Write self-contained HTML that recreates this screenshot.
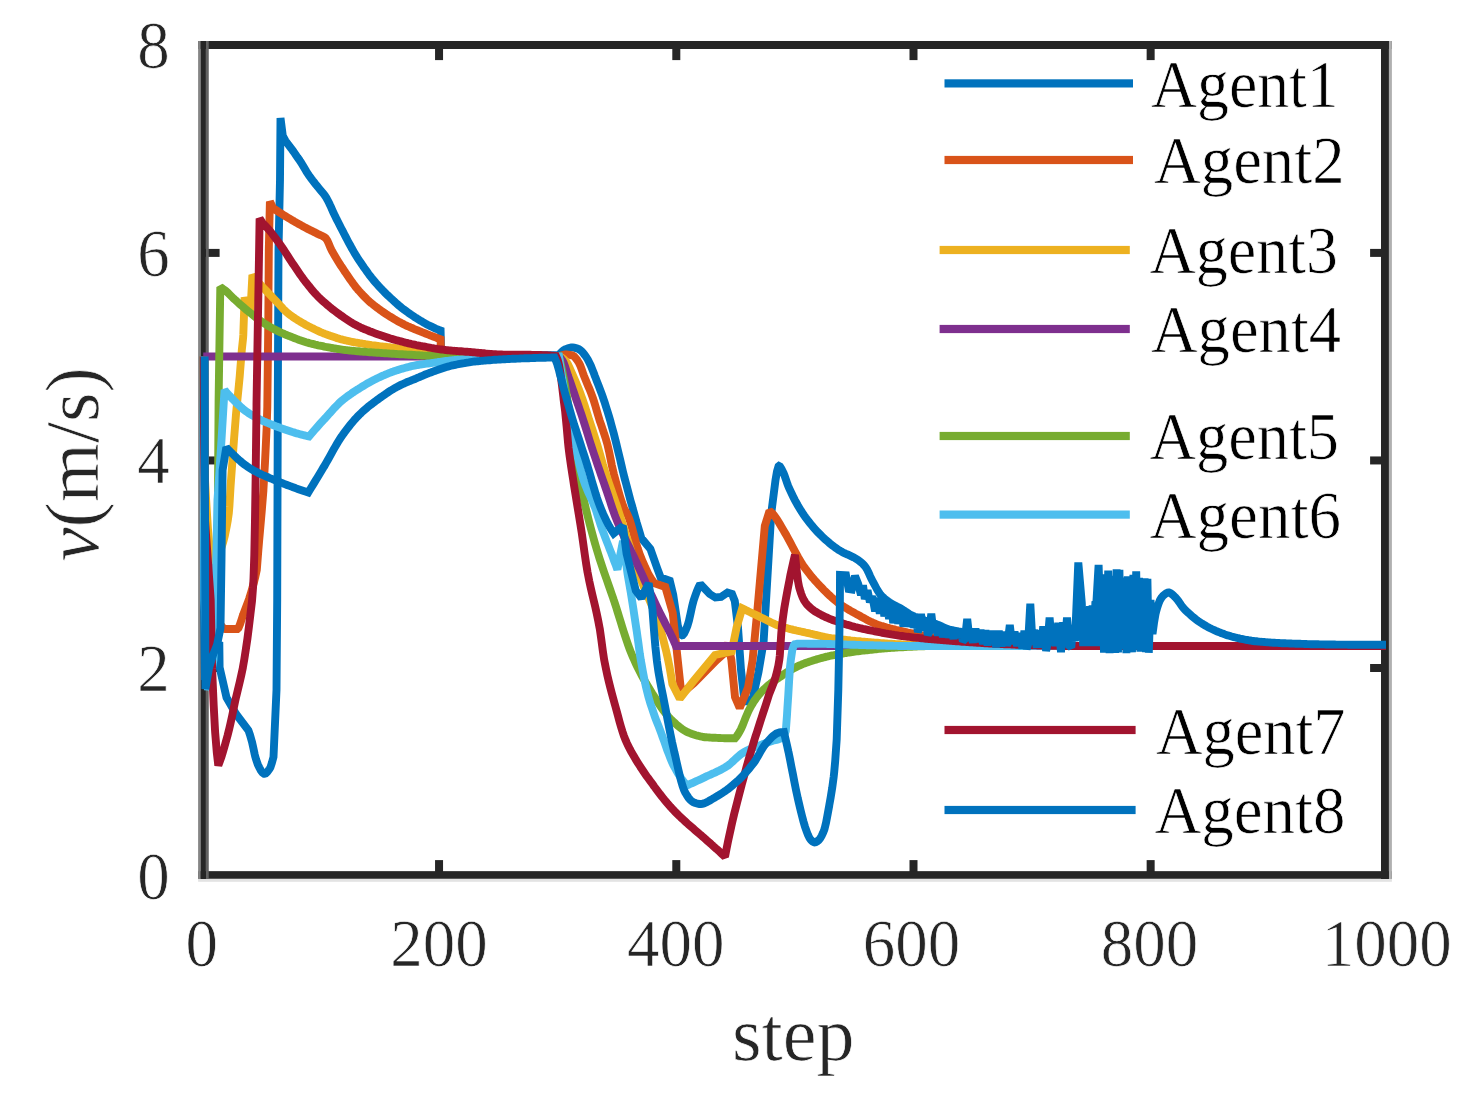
<!DOCTYPE html>
<html>
<head>
<meta charset="utf-8">
<title>v(m/s) vs step</title>
<style>
html,body{margin:0;padding:0;background:#ffffff;}
body{width:1466px;height:1096px;overflow:hidden;font-family:"Liberation Serif",serif;}
svg{display:block;}
</style>
</head>
<body>
<svg width="1466" height="1096" viewBox="0 0 1466 1096">
<rect x="0" y="0" width="1466" height="1096" fill="#ffffff"/>
<g fill="#262626">
<rect x="435.05" y="860.1" width="8.0" height="12"/>
<rect x="435.05" y="48" width="8.0" height="12.1"/>
<rect x="672.30" y="860.1" width="8.0" height="12"/>
<rect x="672.30" y="48" width="8.0" height="12.1"/>
<rect x="909.50" y="860.1" width="8.0" height="12"/>
<rect x="909.50" y="48" width="8.0" height="12.1"/>
<rect x="1146.65" y="860.1" width="8.0" height="12"/>
<rect x="1146.65" y="48" width="8.0" height="12.1"/>
<rect x="205" y="664.00" width="14.6" height="8.0"/>
<rect x="1370.1" y="664.00" width="12" height="8.0"/>
<rect x="205" y="456.45" width="14.6" height="8.0"/>
<rect x="1370.1" y="456.45" width="12" height="8.0"/>
<rect x="205" y="248.90" width="14.6" height="8.0"/>
<rect x="1370.1" y="248.90" width="12" height="8.0"/>
</g>
<rect x="198.1" y="41.0" width="1193.8" height="8.0" fill="#262626"/>
<rect x="198.1" y="878.6" width="1193.8" height="3.2" fill="#e3e3e3"/>
<rect x="198.1" y="871.15" width="1193.8" height="7.6" fill="#262626"/>
<rect x="198.1" y="41.0" width="2.7" height="838" fill="#858585"/>
<rect x="205.8" y="41.0" width="2.95" height="838" fill="#626262"/>
<rect x="200.7" y="41.0" width="5.2" height="838" fill="#262626"/>
<rect x="1388.8" y="41.0" width="3.1" height="838" fill="#b0b0b0"/>
<rect x="1381.0" y="41.0" width="7.9" height="838" fill="#262626"/>
<clipPath id="cp"><rect x="199.5" y="45.0" width="1187.7" height="834.0"/></clipPath>
<g clip-path="url(#cp)" fill="none" stroke-width="7.9" stroke-linejoin="miter" stroke-miterlimit="1.6" stroke-linecap="butt">
<path id="a1" stroke="#0072BD" d="M203.2 356.5 L204.0 600.0 L205.0 680.0 L212.0 655.0 L219.3 642.0 L219.6 667.4 L226.5 697.5 L236.0 714.0 L248.4 730.3 L250.0 734.9 L251.5 740.3 L252.0 742.0 L253.1 746.9 L254.7 754.4 L255.2 756.4 L256.2 759.8 L257.8 764.4 L259.4 767.8 L259.5 768.0 L260.9 770.5 L262.5 772.7 L264.1 773.8 L264.3 773.8 L265.7 773.4 L267.2 772.0 L268.8 770.0 L269.5 769.0 L270.4 767.4 L271.9 762.8 L273.5 757.0 L276.5 690.0 L277.2 600.0 L277.8 400.0 L278.5 250.0 L280.0 180.0 L280.5 118.0 L282.8 136.0 L285.5 141.0 L287.0 142.9 L288.5 144.8 L290.0 146.8 L291.5 148.8 L293.0 150.9 L294.5 153.0 L296.0 155.2 L297.5 157.4 L299.1 159.6 L300.0 161.0 L300.6 161.8 L302.1 164.2 L303.6 166.8 L305.1 169.3 L306.6 171.8 L308.1 174.1 L309.0 175.5 L309.6 176.3 L311.1 178.4 L312.6 180.4 L314.1 182.3 L315.6 184.2 L317.1 186.0 L318.2 187.4 L318.6 187.9 L320.1 189.7 L321.6 191.5 L323.1 193.3 L324.7 195.3 L325.4 196.4 L326.2 197.6 L327.7 200.3 L329.2 203.3 L330.0 205.0 L330.7 206.4 L332.2 209.8 L333.6 213.0 L333.7 213.2 L335.2 216.3 L336.7 219.4 L338.2 222.3 L339.7 225.3 L341.2 228.2 L341.9 229.5 L342.7 231.1 L344.2 234.0 L345.7 236.9 L347.2 239.8 L348.7 242.7 L350.3 245.5 L351.8 248.3 L353.3 250.9 L354.8 253.5 L355.0 253.9 L356.3 256.0 L357.8 258.3 L359.3 260.6 L360.8 262.8 L362.3 265.0 L363.0 266.0 L363.8 267.2 L365.3 269.3 L366.8 271.4 L368.3 273.5 L369.8 275.5 L371.3 277.4 L371.4 277.5 L372.8 279.3 L374.3 281.1 L375.8 282.9 L377.4 284.6 L378.9 286.3 L380.0 287.5 L380.4 287.9 L381.9 289.5 L383.4 291.1 L384.9 292.6 L386.4 294.1 L387.9 295.5 L387.9 295.5 L389.4 296.9 L390.9 298.3 L392.4 299.7 L393.9 301.1 L395.4 302.4 L396.9 303.8 L398.4 305.1 L399.9 306.3 L401.4 307.6 L403.0 308.8 L404.3 309.8 L404.5 309.9 L406.0 311.0 L407.5 312.1 L409.0 313.2 L410.5 314.3 L412.0 315.3 L413.5 316.3 L415.0 317.3 L416.5 318.2 L418.0 319.2 L419.5 320.1 L420.7 320.8 L421.0 321.0 L422.5 321.9 L424.0 322.8 L425.5 323.6 L427.0 324.5 L428.6 325.3 L430.0 326.0 L430.1 326.0 L431.6 326.7 L433.1 327.4 L434.6 328.1 L436.1 328.8 L437.6 329.4 L439.1 330.0 L440.6 330.5 L441.2 356.5 L559.0 355.0 L560.5 353.2 L562.0 351.6 L563.6 350.3 L565.0 349.5 L565.1 349.5 L566.6 348.8 L568.1 348.2 L569.7 347.8 L571.2 347.5 L572.0 347.5 L572.7 347.5 L574.2 347.7 L575.8 348.1 L577.3 348.6 L578.5 349.0 L578.8 349.1 L580.3 350.1 L581.9 351.5 L583.4 353.3 L584.9 355.2 L585.5 356.0 L586.4 357.3 L588.0 359.9 L589.5 362.9 L590.5 365.0 L591.0 366.1 L592.5 369.9 L594.1 373.9 L594.7 375.6 L595.6 377.9 L597.1 381.8 L598.6 385.7 L600.1 389.7 L601.7 393.8 L603.2 398.1 L603.3 398.4 L604.7 402.6 L606.2 407.4 L607.8 412.3 L609.3 417.4 L610.4 421.2 L610.8 422.7 L612.3 428.2 L613.9 434.0 L615.4 440.0 L616.4 444.0 L616.9 446.1 L618.4 452.4 L620.0 458.9 L621.5 465.5 L623.0 471.8 L623.6 474.2 L624.5 477.9 L626.1 483.8 L627.6 489.6 L629.1 495.3 L630.6 500.9 L632.2 506.4 L632.7 508.4 L633.7 511.9 L635.2 517.3 L636.7 522.6 L638.3 527.8 L639.8 532.9 L641.3 538.0 L650.4 549.0 L657.3 568.5 L660.7 577.6 L669.8 580.8 L673.2 594.7 L677.8 625.5 L679.4 631.1 L681.0 634.5 L682.2 635.3 L682.6 635.2 L684.2 633.4 L685.8 630.0 L687.4 626.0 L689.0 620.6 L690.6 613.3 L692.2 605.9 L693.5 601.0 L693.8 600.1 L695.4 595.3 L697.0 590.9 L698.6 587.1 L700.2 584.0 L709.7 594.0 L715.4 597.5 L721.0 597.0 L727.5 592.5 L732.0 594.0 L734.8 601.0 L738.0 627.4 L741.0 670.0 L744.0 697.0 L748.0 703.0 L753.0 697.0 L758.5 672.0 L763.6 642.0 L771.2 513.7 L775.5 480.0 L777.0 471.3 L778.5 466.4 L779.0 466.0 L780.0 466.5 L781.5 468.9 L783.0 472.0 L783.5 473.0 L784.5 475.4 L786.0 479.8 L787.5 484.2 L788.2 486.0 L789.0 487.8 L790.5 491.1 L792.0 494.3 L793.5 497.4 L795.0 500.3 L796.5 503.0 L798.0 505.7 L799.5 508.2 L801.0 510.7 L802.5 513.0 L803.0 513.7 L804.0 515.2 L805.5 517.3 L807.0 519.3 L808.5 521.3 L810.0 523.2 L811.5 525.1 L813.0 526.9 L814.5 528.6 L816.0 530.3 L817.5 531.9 L819.0 533.4 L820.5 534.9 L821.4 535.8 L822.0 536.4 L823.5 537.8 L825.0 539.2 L826.5 540.5 L828.0 541.8 L829.5 543.1 L831.0 544.3 L832.5 545.5 L834.0 546.6 L835.5 547.7 L837.0 548.8 L838.5 549.8 L839.8 550.6 L840.0 550.7 L841.5 551.6 L843.0 552.4 L844.5 553.2 L846.0 553.9 L847.5 554.5 L849.0 555.2 L850.5 555.9 L852.0 556.6 L853.5 557.3 L855.0 558.1 L856.5 559.0 L858.0 560.0 L859.5 561.1 L861.0 562.3 L862.5 563.6 L864.0 565.2 L865.5 567.0 L867.0 569.4 L868.5 572.5 L870.0 575.9 L871.5 579.0 L872.0 580.0 L873.0 581.9 L874.5 584.7 L876.0 587.5 L877.5 590.2 L879.0 592.6 L880.5 594.7 L881.2 595.5 L882.0 596.3 L883.5 597.8 L885.0 599.0 L886.5 600.2 L888.0 601.3 L889.5 602.3 L891.0 603.2 L891.4 603.5 L892.5 604.2 L894.0 605.0 L895.5 605.8 L897.0 606.6 L898.5 607.3 L900.0 608.1 L901.5 608.9 L901.6 609.0 L903.0 609.9 L904.5 610.8 L906.0 611.9 L907.5 612.9 L909.0 613.9 L910.5 614.8 L911.9 615.5 L912.0 615.5 L913.5 616.2 L915.0 616.9 L916.5 617.5 L918.0 618.1 L919.5 618.7 L921.0 619.2 L922.5 619.7 L924.0 620.2 L925.5 620.8 L926.2 621.0 L927.0 621.3 L928.5 621.8 L930.0 622.2 L931.5 622.7 L933.0 623.2 L934.5 623.6 L936.0 624.1 L937.5 624.6 L938.5 625.0 L939.0 625.2 L940.5 625.8 L942.0 626.6 L943.5 627.3 L945.0 628.0 L946.5 628.6 L947.7 629.0 L948.0 629.1 L949.5 629.5 L951.0 629.8 L952.5 630.2 L954.0 630.5 L955.5 630.8 L957.0 631.1 L958.5 631.4 L960.0 631.6 L961.5 631.9 L963.0 632.1 L964.5 632.3 L966.0 632.6 L967.5 632.8 L969.0 633.0 L970.5 633.3 L972.0 633.5 L973.5 633.7 L975.0 634.0 L976.5 634.3 L978.0 634.5 L979.5 634.8 L981.0 635.1 L982.5 635.4 L984.0 635.6 L985.5 635.9 L987.0 636.2 L988.5 636.5 L990.0 636.8 L991.5 637.0 L993.0 637.3 L994.5 637.6 L996.0 637.8 L997.5 638.1 L999.0 638.4 L1000.5 638.6 L1002.0 638.8 L1003.5 639.1 L1005.0 639.3 L1006.5 639.5 L1008.0 639.7 L1009.5 639.9 L1010.0 640.0 L1011.0 640.1 L1012.5 640.3 L1014.0 640.5 L1015.5 640.7 L1017.0 640.8 L1018.5 641.0 L1020.0 641.2 L1021.5 641.4 L1023.0 641.5 L1024.5 641.7 L1026.0 641.8 L1027.5 642.0 L1029.0 642.1 L1030.5 642.3 L1032.0 642.4 L1033.5 642.6 L1035.0 642.7 L1036.5 642.9 L1038.0 643.0 L1039.5 643.1 L1041.0 643.3 L1042.5 643.4 L1044.0 643.5 L1045.5 643.6 L1047.0 643.8 L1048.5 643.9 L1050.0 644.0 L1051.5 644.1 L1053.0 644.2 L1054.5 644.3 L1056.0 644.5 L1057.5 644.6 L1059.0 644.7 L1060.5 644.8 L1062.0 644.9 L1063.5 645.0 L1065.0 645.1 L1066.5 645.2 L1068.0 645.3 L1069.5 645.4 L1071.0 645.5 L1072.5 645.6 L1074.0 645.7 L1075.5 645.8 L1077.0 645.8 L1078.5 645.9 L1080.0 646.0 L1386.0 646.0"/>
<path id="a2" stroke="#D95319" d="M203.2 356.5 L205.0 500.0 L206.5 525.0 L208.0 547.8 L209.6 567.4 L211.1 583.0 L212.0 590.0 L212.6 594.1 L214.1 603.3 L215.7 611.1 L217.2 617.3 L218.7 621.5 L219.0 622.0 L220.2 624.1 L221.8 626.3 L223.3 628.0 L224.8 628.9 L225.4 629.0 L226.3 629.0 L227.9 629.0 L229.4 629.0 L230.9 629.0 L232.4 629.0 L233.9 629.0 L235.5 629.0 L237.0 629.0 L237.4 629.0 L238.5 628.0 L240.0 624.3 L241.6 619.4 L243.0 615.0 L243.1 614.8 L244.6 610.8 L246.1 606.9 L247.7 602.8 L249.2 598.5 L250.0 596.0 L250.7 593.8 L252.2 588.5 L253.8 582.9 L254.5 580.0 L255.3 576.8 L256.8 570.0 L258.4 549.4 L259.2 540.0 L260.1 529.8 L261.7 511.7 L263.4 490.7 L263.4 490.0 L265.0 462.6 L265.6 450.0 L266.6 428.7 L267.3 407.0 L268.2 330.0 L268.3 322.7 L268.8 250.0 L269.9 201.5 L273.0 208.0 L274.5 209.1 L276.0 210.1 L277.5 211.1 L279.0 212.2 L280.5 213.1 L281.1 213.5 L282.1 214.1 L283.6 215.1 L285.1 216.0 L286.6 216.9 L288.1 217.8 L289.6 218.7 L291.1 219.6 L292.6 220.5 L293.5 221.0 L294.1 221.4 L295.6 222.2 L297.2 223.1 L298.7 224.0 L300.2 224.8 L301.7 225.6 L303.2 226.5 L304.7 227.3 L305.7 227.8 L306.2 228.1 L307.7 228.9 L309.2 229.6 L310.7 230.4 L312.3 231.1 L313.8 231.9 L315.3 232.6 L316.8 233.4 L318.0 234.0 L318.3 234.1 L319.8 234.8 L321.3 235.5 L322.8 236.2 L324.3 237.0 L325.6 238.0 L325.8 238.2 L327.4 240.6 L328.9 244.0 L330.4 247.7 L331.5 250.0 L331.9 250.7 L333.4 253.4 L334.9 256.0 L336.4 258.5 L337.9 261.0 L339.4 263.4 L340.9 265.7 L342.5 268.0 L344.0 270.3 L345.1 272.0 L345.5 272.6 L347.0 274.8 L348.5 277.0 L350.0 279.2 L351.5 281.3 L353.0 283.4 L354.5 285.4 L356.0 287.4 L357.6 289.2 L358.3 290.1 L359.1 291.0 L360.6 292.7 L362.1 294.3 L363.6 295.9 L365.1 297.4 L366.6 298.9 L368.1 300.3 L369.6 301.7 L371.1 303.0 L371.4 303.2 L372.7 304.2 L374.2 305.5 L375.7 306.7 L377.2 307.8 L378.7 308.9 L380.2 310.0 L381.7 311.1 L383.2 312.1 L384.7 313.1 L386.2 314.1 L387.8 315.1 L387.9 315.2 L389.3 316.1 L390.8 317.0 L392.3 317.9 L393.8 318.9 L395.3 319.7 L396.8 320.6 L398.3 321.5 L399.8 322.3 L401.3 323.1 L402.9 323.9 L404.3 324.6 L404.4 324.6 L405.9 325.4 L407.4 326.1 L408.9 326.7 L410.4 327.4 L411.9 328.0 L413.4 328.7 L414.9 329.3 L416.4 329.9 L418.0 330.5 L419.5 331.1 L420.7 331.6 L421.0 331.7 L422.5 332.3 L424.0 332.9 L425.5 333.5 L427.0 334.1 L428.5 334.7 L430.0 335.3 L431.5 335.9 L433.1 336.5 L434.6 337.1 L436.1 337.6 L437.6 338.2 L439.1 338.7 L440.6 339.3 L441.2 356.5 L559.0 356.5 L560.5 355.8 L562.0 355.2 L563.5 354.8 L565.1 354.5 L566.0 354.5 L566.6 354.5 L568.1 354.6 L569.6 354.8 L571.1 355.1 L572.5 355.5 L572.6 355.5 L574.1 356.4 L575.6 358.0 L577.2 360.1 L578.7 362.5 L579.0 363.0 L580.2 365.4 L581.7 369.4 L583.2 373.7 L583.9 375.6 L584.7 377.6 L586.2 381.3 L587.7 384.9 L589.3 388.6 L590.8 392.4 L592.3 396.4 L593.0 398.4 L593.8 400.8 L595.3 405.6 L596.8 410.8 L598.3 416.0 L599.8 421.0 L599.9 421.2 L601.4 425.6 L602.9 430.0 L604.4 434.4 L605.9 439.1 L607.3 444.0 L607.4 444.4 L608.9 450.8 L610.4 458.1 L611.9 465.6 L613.5 472.4 L613.9 474.2 L615.0 478.3 L616.5 484.1 L618.0 489.6 L619.5 494.8 L621.0 499.6 L622.5 504.1 L624.0 508.0 L624.2 508.4 L625.6 511.2 L627.1 513.9 L628.5 516.9 L628.6 517.1 L630.1 521.3 L631.6 526.3 L633.1 531.8 L634.6 537.5 L636.1 543.1 L637.7 548.3 L639.2 552.8 L639.5 553.7 L640.7 556.7 L642.2 560.4 L643.7 563.9 L645.2 567.3 L646.7 570.5 L648.2 573.6 L649.8 576.4 L651.3 578.9 L652.8 581.2 L654.3 583.2 L665.3 586.9 L672.7 612.7 L680.7 687.6 L683.5 692.0 L694.0 683.0 L716.7 660.0 L724.3 653.2 L728.0 643.0 L731.4 660.0 L735.0 696.9 L739.7 708.0 L748.0 687.6 L752.6 660.0 L757.5 609.0 L764.8 526.0 L769.5 511.0 L771.0 512.1 L772.0 513.0 L772.5 513.5 L774.0 515.3 L775.5 517.3 L777.0 519.5 L778.5 521.9 L780.0 524.4 L781.5 527.0 L783.0 529.5 L784.5 532.0 L784.5 532.1 L786.0 534.6 L787.5 537.3 L789.0 540.1 L790.5 542.9 L792.0 545.8 L793.5 548.7 L795.1 551.6 L796.6 554.4 L798.1 557.2 L799.6 559.8 L801.1 562.3 L802.6 564.7 L803.0 565.3 L804.1 566.8 L805.6 568.9 L807.1 570.9 L808.6 572.9 L810.1 574.7 L811.6 576.6 L813.1 578.3 L814.6 580.1 L816.1 581.7 L817.6 583.4 L819.1 585.0 L820.6 586.6 L821.4 587.4 L822.1 588.1 L823.6 589.7 L825.1 591.2 L826.6 592.6 L828.1 594.1 L829.6 595.5 L831.1 596.9 L832.6 598.2 L834.1 599.5 L835.6 600.8 L837.1 602.0 L838.6 603.2 L839.8 604.0 L840.1 604.2 L841.6 605.3 L843.2 606.3 L844.7 607.3 L846.2 608.2 L847.7 609.1 L849.2 610.0 L850.7 610.9 L852.2 611.7 L853.7 612.5 L855.2 613.4 L856.7 614.2 L858.2 615.0 L858.2 615.0 L859.7 615.8 L861.2 616.7 L862.7 617.5 L864.2 618.3 L865.7 619.1 L867.2 620.0 L868.7 620.7 L870.2 621.5 L871.7 622.2 L873.2 622.9 L874.7 623.5 L876.2 624.1 L876.7 624.3 L877.7 624.7 L879.2 625.2 L880.7 625.7 L882.2 626.1 L883.7 626.6 L885.2 627.0 L886.7 627.5 L888.2 627.9 L889.8 628.3 L891.3 628.7 L892.8 629.0 L894.3 629.4 L895.8 629.8 L897.3 630.1 L898.8 630.5 L900.3 630.8 L901.8 631.1 L903.3 631.5 L904.3 631.7 L904.8 631.8 L906.3 632.1 L907.8 632.5 L909.3 632.8 L910.8 633.1 L912.3 633.4 L913.8 633.7 L915.3 634.0 L916.8 634.3 L918.3 634.6 L919.8 634.9 L921.3 635.2 L922.8 635.4 L924.3 635.7 L925.8 636.0 L927.3 636.2 L928.8 636.5 L930.3 636.7 L931.8 637.0 L932.0 637.0 L933.3 637.2 L934.8 637.4 L936.3 637.7 L937.9 637.9 L939.4 638.1 L940.9 638.3 L942.4 638.5 L943.9 638.8 L945.4 639.0 L946.9 639.2 L948.4 639.4 L949.9 639.6 L951.4 639.8 L952.9 639.9 L954.4 640.1 L955.9 640.3 L957.4 640.5 L958.9 640.7 L960.4 640.9 L961.9 641.1 L963.4 641.2 L964.9 641.4 L966.4 641.6 L967.9 641.8 L969.4 641.9 L970.0 642.0 L970.9 642.1 L972.4 642.3 L973.9 642.4 L975.4 642.6 L976.9 642.8 L978.4 642.9 L979.9 643.1 L981.4 643.3 L982.9 643.4 L984.4 643.6 L986.0 643.7 L987.5 643.9 L989.0 644.0 L990.5 644.2 L992.0 644.3 L993.5 644.5 L995.0 644.6 L996.5 644.8 L998.0 644.9 L999.5 645.1 L1001.0 645.2 L1002.5 645.3 L1004.0 645.5 L1005.5 645.6 L1007.0 645.7 L1008.5 645.9 L1010.0 646.0 L1386.0 646.0"/>
<path id="a3" stroke="#EDB120" d="M203.2 356.5 L205.0 480.0 L206.5 506.2 L208.0 529.4 L209.6 547.5 L211.1 558.1 L212.0 560.0 L212.6 559.9 L214.1 559.1 L215.7 557.6 L217.2 555.7 L218.7 553.4 L219.0 553.0 L220.2 550.6 L221.8 546.5 L223.3 541.6 L224.0 539.0 L224.8 535.8 L226.3 528.5 L226.8 526.0 L227.8 520.3 L228.8 513.4 L229.4 506.3 L230.6 486.0 L230.9 481.8 L232.4 461.2 L233.3 449.5 L233.9 440.9 L235.5 420.7 L236.1 413.0 L237.0 403.6 L238.5 388.9 L239.7 376.5 L240.0 372.6 L241.6 352.8 L241.8 350.0 L243.1 338.0 L243.3 335.0 L244.6 297.5 L250.3 314.0 L252.4 275.0 L256.0 280.0 L257.5 281.6 L259.0 283.2 L260.5 284.8 L262.0 286.4 L263.5 288.0 L264.0 288.5 L265.0 289.6 L266.5 291.1 L268.0 292.7 L269.5 294.2 L271.0 295.8 L272.5 297.4 L274.0 298.9 L275.5 300.5 L276.0 301.0 L277.0 302.1 L278.5 303.7 L280.0 305.4 L281.5 307.0 L283.0 308.7 L284.5 310.2 L286.0 311.6 L287.0 312.5 L287.5 312.9 L289.0 314.1 L290.5 315.3 L292.0 316.3 L293.5 317.4 L295.0 318.4 L296.5 319.3 L298.0 320.3 L299.5 321.2 L300.0 321.5 L301.0 322.1 L302.5 323.0 L304.0 323.8 L305.5 324.7 L307.0 325.5 L308.5 326.3 L310.0 327.0 L311.5 327.8 L312.7 328.4 L313.0 328.5 L314.5 329.3 L316.0 330.0 L317.5 330.7 L319.0 331.4 L320.5 332.1 L322.0 332.7 L323.5 333.3 L324.0 333.5 L325.0 333.9 L326.5 334.4 L328.0 335.0 L329.5 335.5 L331.0 336.1 L332.5 336.6 L334.0 337.1 L335.5 337.6 L337.0 338.1 L338.5 338.5 L340.0 339.0 L341.5 339.4 L343.0 339.8 L344.5 340.2 L345.5 340.4 L346.0 340.5 L347.5 340.8 L349.0 341.2 L350.5 341.5 L352.0 341.8 L353.5 342.1 L355.0 342.4 L356.5 342.6 L358.0 342.9 L359.5 343.2 L361.0 343.4 L362.5 343.7 L364.0 343.9 L365.5 344.2 L367.0 344.4 L368.5 344.6 L370.0 344.8 L371.5 345.1 L373.0 345.3 L374.5 345.5 L376.0 345.7 L377.5 345.9 L378.2 346.0 L379.0 346.1 L380.5 346.3 L382.0 346.5 L383.5 346.7 L385.0 346.8 L386.5 347.0 L388.0 347.2 L389.5 347.3 L391.0 347.5 L392.5 347.6 L394.0 347.8 L395.5 348.0 L397.0 348.1 L398.5 348.3 L400.0 348.5 L401.5 348.7 L403.0 348.9 L404.5 349.1 L406.0 349.3 L407.5 349.5 L409.0 349.8 L410.5 350.0 L412.0 350.2 L413.5 350.5 L415.0 350.7 L416.5 350.9 L418.0 351.2 L419.5 351.4 L421.0 351.6 L422.5 351.9 L424.0 352.1 L425.5 352.3 L427.0 352.5 L428.5 352.7 L430.0 352.8 L431.5 353.0 L433.0 353.2 L434.5 353.3 L434.6 353.3 L436.0 353.4 L437.5 353.5 L439.0 353.7 L440.5 353.8 L442.0 353.9 L443.5 354.0 L445.0 354.1 L446.5 354.2 L448.0 354.4 L449.5 354.5 L451.0 354.6 L452.5 354.7 L454.0 354.7 L455.5 354.8 L457.0 354.9 L458.5 355.0 L460.0 355.1 L461.5 355.2 L463.0 355.2 L464.5 355.3 L466.0 355.4 L467.5 355.4 L469.0 355.5 L470.0 355.5 L470.5 355.5 L472.0 355.6 L473.5 355.6 L475.0 355.7 L476.5 355.7 L478.0 355.7 L479.5 355.8 L481.0 355.8 L482.5 355.9 L484.0 355.9 L485.5 356.0 L487.0 356.0 L488.5 356.0 L490.0 356.1 L491.5 356.1 L493.0 356.1 L494.5 356.2 L496.0 356.2 L497.5 356.2 L499.0 356.3 L500.5 356.3 L502.0 356.3 L503.5 356.4 L505.0 356.4 L506.5 356.4 L508.0 356.4 L509.5 356.4 L511.0 356.5 L512.5 356.5 L514.0 356.5 L515.5 356.5 L517.0 356.5 L518.5 356.5 L520.0 356.5 L521.5 356.5 L523.0 356.5 L524.5 356.5 L526.0 356.5 L527.5 356.5 L529.0 356.5 L530.5 356.5 L532.0 356.5 L533.5 356.5 L535.0 356.5 L536.5 356.5 L538.0 356.5 L539.5 356.5 L541.0 356.5 L542.5 356.5 L544.0 356.5 L545.5 356.5 L547.0 356.5 L548.5 356.5 L550.0 356.5 L551.5 356.5 L553.0 356.5 L554.5 356.5 L556.0 356.5 L557.5 356.5 L559.0 356.5 L560.5 356.9 L562.0 357.7 L563.5 358.9 L565.0 360.4 L565.5 360.8 L566.6 362.1 L568.1 364.6 L569.6 367.8 L571.1 371.3 L572.6 374.7 L573.0 375.6 L574.1 378.1 L575.6 381.6 L577.1 385.2 L578.7 389.0 L580.2 392.9 L581.7 397.0 L582.2 398.4 L583.2 401.2 L584.7 405.8 L586.2 410.5 L587.7 415.3 L589.2 420.1 L589.6 421.2 L590.8 424.7 L592.3 429.3 L593.8 433.9 L595.3 438.6 L596.8 443.4 L597.0 444.0 L598.3 448.4 L599.8 453.6 L601.3 458.9 L602.8 464.1 L604.4 469.2 L604.5 469.6 L605.9 473.9 L607.4 478.4 L608.9 482.9 L610.4 487.2 L611.9 491.5 L613.4 495.9 L614.9 500.3 L615.5 502.0 L616.5 504.9 L618.0 509.5 L619.5 514.2 L621.0 518.9 L622.5 523.7 L624.0 528.5 L625.5 533.3 L627.0 538.1 L628.6 542.9 L630.1 547.7 L631.6 552.4 L633.1 557.0 L634.6 561.6 L636.1 566.1 L637.6 570.5 L639.1 574.8 L639.5 575.8 L640.6 578.9 L642.2 582.8 L643.7 586.6 L645.2 590.2 L646.7 593.7 L648.2 597.2 L649.7 600.7 L651.2 604.2 L652.7 607.9 L654.3 611.6 L655.8 615.6 L657.3 619.8 L658.8 624.2 L659.8 627.4 L660.3 629.0 L661.8 634.2 L663.3 639.7 L664.8 645.7 L666.4 652.1 L667.9 658.9 L669.0 664.3 L669.4 666.2 L670.9 674.7 L672.4 684.0 L679.8 698.7 L692.7 682.0 L715.0 655.0 L731.7 651.4 L736.6 627.4 L742.2 608.3 L743.7 609.0 L745.2 609.8 L746.7 610.5 L748.2 611.3 L749.7 612.0 L751.2 612.7 L752.7 613.5 L754.2 614.2 L755.8 614.9 L757.3 615.6 L758.8 616.3 L760.3 617.1 L761.2 617.5 L761.8 617.8 L763.3 618.5 L764.8 619.3 L766.3 620.0 L767.8 620.8 L769.3 621.5 L770.8 622.3 L772.3 623.0 L773.8 623.7 L775.3 624.4 L776.8 625.0 L778.3 625.6 L779.6 626.0 L779.8 626.1 L781.4 626.6 L782.9 627.0 L784.4 627.5 L785.9 627.9 L787.4 628.3 L788.9 628.7 L790.4 629.1 L791.9 629.4 L793.4 629.8 L794.9 630.1 L796.4 630.5 L797.9 630.8 L799.4 631.2 L800.9 631.5 L802.4 631.8 L803.9 632.1 L805.4 632.5 L806.9 632.8 L808.5 633.1 L810.0 633.5 L810.0 633.5 L811.5 633.8 L813.0 634.2 L814.5 634.6 L816.0 634.9 L817.5 635.3 L819.0 635.7 L820.5 636.0 L822.0 636.3 L823.5 636.7 L825.0 637.0 L826.5 637.3 L828.0 637.6 L829.5 637.8 L830.6 638.0 L831.0 638.1 L832.5 638.3 L834.1 638.5 L835.6 638.7 L837.1 638.9 L838.6 639.1 L840.1 639.3 L841.6 639.5 L843.1 639.7 L844.6 639.8 L846.1 640.0 L847.6 640.2 L849.1 640.3 L850.6 640.5 L852.1 640.6 L853.6 640.8 L855.1 640.9 L856.6 641.1 L858.1 641.2 L859.7 641.3 L861.2 641.5 L862.7 641.6 L864.2 641.7 L865.7 641.9 L867.2 642.0 L867.4 642.0 L868.7 642.1 L870.2 642.2 L871.7 642.4 L873.2 642.5 L874.7 642.6 L876.2 642.7 L877.7 642.8 L879.2 642.9 L880.7 643.1 L882.2 643.2 L883.7 643.3 L885.3 643.4 L886.8 643.5 L888.3 643.6 L889.8 643.7 L891.3 643.8 L892.8 643.9 L894.3 644.0 L895.8 644.1 L897.3 644.2 L898.8 644.3 L900.3 644.3 L901.8 644.4 L903.3 644.5 L904.8 644.6 L906.3 644.6 L907.8 644.7 L909.3 644.8 L910.0 644.8 L910.8 644.8 L912.4 644.9 L913.9 645.0 L915.4 645.0 L916.9 645.1 L918.4 645.1 L919.9 645.2 L921.4 645.2 L922.9 645.3 L924.4 645.4 L925.9 645.4 L927.4 645.5 L928.9 645.5 L930.4 645.6 L931.9 645.6 L933.4 645.6 L934.9 645.7 L936.4 645.7 L938.0 645.8 L939.5 645.8 L941.0 645.8 L942.5 645.9 L944.0 645.9 L945.5 645.9 L947.0 646.0 L948.5 646.0 L950.0 646.0 L1386.0 646.0"/>
<path id="a4" stroke="#7E2F8E" d="M203.2 356.5 L559.0 356.5 L560.5 357.9 L562.0 359.9 L562.7 361.0 L563.5 362.5 L565.0 366.4 L566.5 370.9 L568.0 375.6 L568.5 377.0 L569.5 379.8 L571.0 384.1 L572.5 388.5 L574.0 392.8 L575.5 397.2 L575.9 398.4 L577.0 401.6 L578.5 406.0 L580.0 410.4 L581.5 414.8 L583.0 419.4 L583.6 421.2 L584.5 424.0 L586.0 428.8 L587.5 433.7 L589.0 438.6 L590.5 443.4 L590.7 444.0 L592.0 448.0 L593.5 452.6 L595.0 457.1 L596.5 461.5 L597.0 463.0 L598.0 466.0 L599.5 470.3 L601.0 474.7 L602.5 479.0 L604.0 483.3 L605.5 487.6 L607.0 492.0 L608.0 495.0 L608.5 496.5 L610.0 501.1 L611.5 505.7 L612.4 508.4 L613.0 510.1 L614.5 514.4 L615.5 517.0 L616.0 518.2 L617.5 521.9 L619.0 525.4 L620.5 528.8 L622.0 532.1 L623.5 535.3 L625.0 538.5 L626.5 541.6 L628.0 544.7 L629.5 547.8 L631.0 550.9 L632.5 554.0 L634.0 557.2 L635.5 560.4 L635.8 561.0 L637.0 563.6 L638.5 566.9 L640.0 570.1 L641.5 573.4 L643.0 576.7 L644.5 580.0 L646.0 583.3 L647.5 586.6 L649.0 589.8 L650.5 593.1 L652.0 596.3 L653.5 599.5 L655.0 602.7 L656.5 605.9 L658.0 609.0 L659.5 612.1 L661.0 615.1 L662.5 618.0 L664.0 620.9 L665.5 623.9 L667.0 626.8 L668.5 629.8 L670.0 632.8 L671.5 635.9 L672.0 637.0 L673.0 639.2 L674.5 642.6 L676.0 646.0 L1386.0 646.0"/>
<path id="a5" stroke="#77AC30" d="M203.2 356.5 L205.0 560.0 L214.0 640.0 L217.5 560.0 L218.6 400.0 L220.3 287.0 L221.8 288.0 L223.3 289.1 L224.8 290.2 L226.3 291.4 L227.0 292.0 L227.8 292.7 L229.3 294.2 L230.8 295.7 L232.3 297.2 L233.8 298.7 L234.2 299.0 L235.4 300.1 L236.9 301.4 L238.4 302.8 L239.9 304.2 L241.4 305.5 L242.9 306.8 L244.4 308.1 L245.9 309.4 L247.4 310.6 L247.9 311.0 L248.9 311.8 L250.4 313.0 L251.9 314.2 L253.4 315.4 L254.9 316.6 L256.4 317.8 L257.9 318.9 L259.4 320.0 L260.9 321.1 L262.4 322.2 L264.0 323.2 L265.5 324.2 L267.0 325.1 L268.4 326.0 L268.5 326.0 L270.0 326.9 L271.5 327.7 L273.0 328.6 L274.5 329.4 L276.0 330.1 L277.5 330.9 L279.0 331.6 L280.5 332.3 L282.0 333.0 L283.5 333.7 L285.0 334.4 L286.5 335.0 L288.0 335.6 L289.0 336.0 L289.5 336.2 L291.1 336.8 L292.6 337.4 L294.1 338.0 L295.6 338.6 L297.1 339.1 L298.6 339.7 L300.1 340.2 L301.6 340.7 L303.1 341.2 L304.6 341.7 L306.1 342.2 L307.6 342.6 L309.1 343.1 L310.6 343.5 L312.1 343.9 L312.7 344.0 L313.6 344.2 L315.1 344.6 L316.6 344.9 L318.1 345.3 L319.7 345.6 L321.2 345.9 L322.7 346.2 L324.2 346.6 L325.7 346.9 L327.2 347.1 L328.7 347.4 L330.2 347.7 L331.7 348.0 L333.2 348.2 L334.7 348.5 L336.2 348.7 L337.7 349.0 L339.2 349.2 L340.7 349.4 L342.2 349.6 L343.7 349.8 L345.2 350.0 L345.5 350.0 L346.7 350.1 L348.3 350.3 L349.8 350.5 L351.3 350.6 L352.8 350.8 L354.3 350.9 L355.8 351.1 L357.3 351.2 L358.8 351.3 L360.3 351.5 L361.8 351.6 L363.3 351.7 L364.8 351.8 L366.3 351.9 L367.8 352.1 L369.3 352.2 L370.8 352.3 L372.3 352.4 L373.8 352.5 L375.3 352.6 L376.9 352.7 L378.2 352.8 L378.4 352.8 L379.9 352.9 L381.4 353.0 L382.9 353.1 L384.4 353.2 L385.9 353.3 L387.4 353.4 L388.9 353.5 L390.4 353.6 L391.9 353.7 L393.4 353.8 L394.9 353.9 L396.4 354.0 L397.9 354.1 L399.4 354.2 L400.9 354.2 L402.4 354.3 L404.0 354.4 L405.5 354.5 L407.0 354.6 L408.5 354.7 L410.0 354.7 L411.0 354.8 L411.5 354.8 L413.0 354.9 L414.5 355.0 L416.0 355.1 L417.5 355.2 L419.0 355.3 L420.5 355.4 L422.0 355.5 L423.5 355.6 L425.0 355.6 L426.5 355.7 L428.0 355.8 L429.5 355.9 L431.0 356.0 L432.6 356.0 L434.1 356.1 L435.6 356.1 L437.1 356.2 L438.6 356.2 L440.0 356.2 L440.1 356.2 L441.6 356.2 L443.1 356.2 L444.6 356.2 L446.1 356.2 L447.6 356.2 L449.1 356.3 L450.6 356.3 L452.1 356.3 L453.6 356.3 L455.1 356.3 L456.6 356.3 L458.1 356.3 L459.6 356.3 L461.2 356.3 L462.7 356.3 L464.2 356.3 L465.7 356.3 L467.2 356.3 L468.7 356.3 L470.2 356.3 L471.7 356.4 L473.2 356.4 L474.7 356.4 L476.2 356.4 L477.7 356.4 L479.2 356.4 L480.7 356.4 L482.2 356.4 L483.7 356.4 L485.2 356.4 L486.7 356.4 L488.2 356.4 L489.8 356.4 L491.3 356.4 L492.8 356.4 L494.3 356.4 L495.8 356.4 L497.3 356.4 L498.8 356.4 L500.3 356.4 L501.8 356.4 L503.3 356.4 L504.8 356.4 L506.3 356.5 L507.8 356.5 L509.3 356.5 L510.8 356.5 L512.3 356.5 L513.8 356.5 L515.3 356.5 L516.9 356.5 L518.4 356.5 L519.9 356.5 L521.4 356.5 L522.9 356.5 L524.4 356.5 L525.9 356.5 L527.4 356.5 L528.9 356.5 L530.4 356.5 L531.9 356.5 L533.4 356.5 L534.9 356.5 L536.4 356.5 L537.9 356.5 L539.4 356.5 L540.9 356.5 L542.4 356.5 L543.9 356.5 L545.5 356.5 L547.0 356.5 L548.5 356.5 L550.0 356.5 L551.5 356.5 L553.0 356.5 L554.5 356.5 L556.0 356.5 L557.5 356.5 L559.0 356.5 L560.5 363.0 L562.0 369.9 L563.5 377.3 L565.0 385.0 L565.0 385.1 L566.5 393.7 L568.0 403.3 L569.5 413.4 L571.0 424.0 L572.5 434.8 L574.0 445.5 L575.5 455.8 L577.1 465.5 L578.6 474.4 L579.6 480.0 L580.1 482.3 L581.6 489.6 L583.1 496.6 L584.6 503.3 L586.1 509.7 L587.6 515.8 L589.1 521.8 L590.6 527.5 L592.1 533.1 L593.6 538.5 L595.1 543.8 L595.3 544.5 L596.6 549.0 L598.1 553.9 L599.6 558.7 L601.1 563.3 L602.6 567.8 L604.1 572.2 L605.6 576.5 L607.1 580.8 L608.6 585.1 L610.1 589.4 L611.6 593.7 L613.2 598.2 L613.7 599.8 L614.7 602.7 L616.2 607.4 L617.7 612.2 L619.2 617.1 L620.7 621.9 L622.2 626.8 L623.7 631.6 L625.2 636.3 L626.7 640.8 L628.2 645.1 L629.7 649.3 L631.2 653.1 L632.0 655.0 L632.7 656.6 L634.2 660.0 L635.7 663.3 L637.2 666.5 L638.7 669.5 L640.2 672.5 L641.7 675.3 L643.2 678.1 L644.7 680.8 L646.2 683.4 L647.8 686.0 L649.3 688.5 L650.8 691.0 L652.0 693.0 L652.3 693.4 L653.8 695.8 L655.3 698.2 L656.8 700.6 L658.3 703.0 L659.8 705.2 L661.3 707.5 L662.8 709.6 L664.3 711.7 L665.8 713.6 L667.3 715.4 L668.8 717.1 L670.3 718.7 L670.6 719.0 L671.8 720.2 L673.3 721.6 L674.8 723.0 L676.3 724.4 L677.8 725.7 L679.3 726.9 L680.8 728.1 L682.4 729.2 L683.9 730.2 L685.4 731.1 L686.9 731.9 L688.4 732.6 L689.0 732.8 L689.9 733.1 L691.4 733.7 L692.9 734.2 L694.4 734.7 L695.9 735.2 L697.4 735.6 L698.9 736.0 L700.4 736.4 L701.9 736.7 L703.4 737.0 L704.9 737.2 L706.4 737.3 L707.4 737.4 L707.9 737.4 L709.4 737.5 L710.9 737.6 L712.4 737.7 L713.9 737.8 L715.4 737.8 L716.9 737.9 L718.5 738.0 L720.0 738.0 L721.5 738.1 L723.0 738.1 L724.5 738.2 L726.0 738.2 L727.5 738.2 L729.0 738.3 L730.5 738.3 L732.0 738.3 L733.5 738.3 L735.0 738.3 L736.5 736.5 L738.0 734.3 L739.5 731.8 L741.0 729.0 L742.5 725.7 L744.0 721.8 L745.5 718.0 L747.0 714.5 L748.5 711.0 L749.5 709.0 L750.0 708.1 L751.5 705.4 L753.0 702.9 L754.5 700.6 L756.0 698.5 L757.5 696.5 L759.0 694.6 L760.5 692.9 L762.0 691.2 L763.2 690.0 L763.5 689.7 L765.0 688.3 L766.5 686.9 L768.0 685.6 L769.5 684.4 L770.0 684.0 L771.0 683.2 L772.5 682.1 L774.0 681.1 L775.5 680.1 L776.9 679.1 L777.0 679.0 L778.5 678.0 L780.0 676.9 L781.5 675.9 L783.0 674.8 L784.5 673.8 L786.0 672.8 L787.5 671.8 L789.0 670.9 L790.5 670.1 L790.6 670.0 L792.0 669.2 L793.5 668.4 L795.0 667.7 L796.5 666.9 L798.0 666.2 L799.5 665.5 L801.0 664.9 L802.5 664.2 L804.0 663.6 L804.3 663.5 L805.5 663.0 L807.0 662.5 L808.5 662.0 L810.0 661.4 L811.5 661.0 L813.0 660.5 L814.5 660.0 L816.0 659.6 L817.5 659.1 L818.0 659.0 L819.0 658.7 L820.5 658.3 L822.0 657.9 L823.5 657.5 L825.0 657.1 L826.5 656.7 L828.0 656.4 L829.5 656.0 L831.0 655.7 L832.5 655.4 L834.0 655.1 L834.4 655.0 L835.5 654.8 L837.0 654.5 L838.5 654.2 L840.0 654.0 L841.5 653.7 L843.0 653.5 L844.5 653.2 L846.0 653.0 L847.5 652.7 L849.0 652.5 L850.5 652.3 L852.0 652.1 L853.5 651.8 L855.0 651.6 L856.5 651.4 L858.0 651.3 L859.5 651.1 L860.0 651.0 L861.0 650.9 L862.5 650.7 L864.0 650.5 L865.5 650.3 L867.0 650.2 L868.5 650.0 L870.0 649.8 L871.5 649.7 L873.0 649.5 L874.5 649.3 L876.0 649.2 L877.5 649.0 L879.0 648.9 L880.5 648.8 L882.0 648.6 L883.5 648.5 L885.0 648.4 L886.5 648.3 L888.0 648.1 L889.5 648.0 L890.0 648.0 L891.0 647.9 L892.5 647.8 L894.0 647.7 L895.5 647.6 L897.0 647.5 L898.5 647.4 L900.0 647.3 L901.5 647.3 L903.0 647.2 L904.5 647.1 L906.0 647.0 L907.5 646.9 L909.0 646.8 L910.5 646.7 L912.0 646.7 L913.5 646.6 L915.0 646.5 L916.5 646.5 L918.0 646.4 L919.5 646.3 L921.0 646.3 L922.5 646.2 L924.0 646.2 L925.5 646.1 L927.0 646.1 L928.5 646.0 L930.0 646.0 L1386.0 646.0"/>
<path id="a6" stroke="#4DBEEE" d="M203.2 356.5 L204.5 600.0 L208.0 690.0 L213.4 660.0 L214.6 640.0 L217.5 500.0 L221.5 440.0 L224.5 390.0 L226.0 391.8 L227.5 393.5 L229.0 395.2 L230.5 396.8 L232.0 398.4 L233.6 400.0 L235.1 401.6 L236.6 403.1 L238.1 404.5 L239.6 405.9 L241.1 407.3 L242.6 408.6 L244.1 409.8 L245.6 411.0 L247.1 412.1 L248.6 413.1 L250.0 414.0 L250.2 414.1 L251.7 415.0 L253.2 415.9 L254.7 416.8 L256.2 417.6 L257.7 418.4 L259.2 419.1 L260.7 419.9 L262.2 420.6 L263.7 421.3 L265.2 421.9 L266.8 422.6 L268.3 423.2 L269.8 423.8 L271.3 424.4 L272.8 425.0 L274.3 425.6 L275.8 426.2 L277.3 426.7 L278.0 427.0 L278.8 427.3 L280.3 427.9 L281.8 428.4 L283.3 428.9 L284.9 429.5 L286.4 430.0 L287.9 430.5 L289.4 431.0 L290.9 431.5 L292.4 432.0 L293.9 432.4 L295.4 432.9 L296.9 433.4 L298.4 433.8 L299.9 434.2 L301.5 434.6 L303.0 435.0 L304.5 435.4 L306.0 435.8 L307.5 436.2 L309.0 436.5 L310.5 434.7 L312.0 433.0 L313.5 431.2 L315.0 429.5 L316.5 427.8 L318.0 426.1 L319.5 424.4 L321.0 422.7 L322.6 421.1 L324.0 419.5 L324.1 419.4 L325.6 417.8 L327.1 416.1 L328.6 414.4 L330.1 412.8 L331.6 411.1 L333.1 409.4 L334.6 407.8 L336.1 406.2 L337.6 404.7 L339.1 403.2 L340.6 401.8 L342.1 400.5 L342.4 400.3 L343.6 399.3 L345.1 398.1 L346.7 396.9 L348.2 395.8 L349.7 394.7 L351.2 393.7 L352.7 392.6 L354.2 391.6 L355.7 390.7 L357.2 389.7 L358.7 388.8 L360.2 387.8 L360.9 387.4 L361.7 386.9 L363.2 386.0 L364.7 385.1 L366.2 384.2 L367.7 383.3 L369.2 382.5 L370.7 381.6 L372.3 380.8 L373.8 380.0 L375.3 379.3 L376.8 378.5 L378.3 377.8 L379.3 377.3 L379.8 377.1 L381.3 376.4 L382.8 375.7 L384.3 375.1 L385.8 374.4 L387.3 373.8 L388.8 373.2 L390.3 372.6 L391.8 372.0 L393.3 371.5 L394.8 370.9 L396.3 370.4 L397.7 370.0 L397.9 370.0 L399.4 369.5 L400.9 369.0 L402.4 368.6 L403.9 368.2 L405.4 367.8 L406.9 367.4 L408.4 367.0 L409.9 366.6 L411.4 366.2 L412.9 365.9 L414.4 365.6 L415.9 365.3 L416.0 365.3 L417.4 365.0 L418.9 364.8 L420.4 364.5 L422.0 364.3 L423.5 364.1 L425.0 363.9 L426.5 363.7 L428.0 363.5 L429.5 363.3 L431.0 363.1 L432.5 362.9 L434.0 362.7 L434.6 362.6 L435.5 362.5 L437.0 362.3 L438.5 362.0 L440.0 361.8 L441.5 361.6 L443.0 361.4 L444.5 361.2 L446.0 361.0 L447.6 360.8 L449.1 360.6 L450.6 360.4 L452.1 360.3 L453.0 360.2 L453.6 360.2 L455.1 360.0 L456.6 359.9 L458.1 359.8 L459.6 359.7 L461.1 359.5 L462.6 359.4 L464.1 359.3 L465.6 359.2 L467.1 359.1 L468.6 359.0 L470.1 358.9 L471.7 358.8 L473.2 358.7 L474.7 358.6 L476.2 358.5 L477.7 358.4 L479.2 358.4 L480.7 358.3 L482.2 358.2 L483.7 358.1 L485.2 358.1 L486.7 358.0 L488.2 357.9 L489.7 357.9 L491.2 357.8 L492.7 357.7 L494.2 357.7 L495.7 357.6 L497.3 357.6 L498.8 357.5 L500.0 357.5 L500.3 357.5 L501.8 357.5 L503.3 357.4 L504.8 357.4 L506.3 357.3 L507.8 357.3 L509.3 357.3 L510.8 357.2 L512.3 357.2 L513.8 357.1 L515.3 357.1 L516.8 357.1 L518.3 357.0 L519.8 357.0 L521.3 357.0 L522.9 356.9 L524.4 356.9 L525.9 356.9 L527.4 356.8 L528.9 356.8 L530.4 356.8 L531.9 356.8 L533.4 356.7 L534.9 356.7 L536.4 356.7 L537.9 356.7 L539.4 356.6 L540.9 356.6 L542.4 356.6 L543.9 356.6 L545.4 356.6 L547.0 356.6 L548.5 356.5 L550.0 356.5 L551.5 356.5 L553.0 356.5 L554.5 356.5 L556.0 356.5 L557.5 356.5 L559.0 356.5 L560.5 366.7 L562.1 376.6 L563.6 386.1 L565.1 395.2 L566.0 400.0 L566.7 403.8 L568.2 411.9 L569.8 419.8 L571.3 427.4 L572.8 434.7 L574.4 441.8 L575.6 447.4 L575.9 448.8 L577.4 455.7 L579.0 462.6 L580.5 469.1 L582.1 475.1 L583.5 480.0 L583.6 480.3 L585.1 484.7 L586.7 488.6 L588.2 492.1 L589.7 495.4 L591.3 498.7 L592.8 502.2 L594.3 505.9 L595.3 508.4 L595.9 510.1 L597.4 514.8 L599.0 519.7 L600.5 524.5 L601.0 526.0 L602.0 528.9 L603.6 533.1 L605.1 537.2 L606.6 541.1 L608.2 545.1 L609.7 549.1 L611.3 553.1 L611.6 554.0 L612.8 557.2 L614.3 561.3 L615.9 565.4 L617.4 569.6 L623.0 541.0 L627.6 574.2 L629.1 582.9 L630.7 592.0 L632.2 601.4 L633.3 608.4 L633.7 611.1 L635.2 621.2 L636.8 631.7 L637.5 636.7 L638.3 642.4 L639.8 653.7 L640.8 660.0 L641.4 663.2 L642.9 671.6 L644.4 679.4 L645.9 686.5 L647.5 693.0 L648.5 696.9 L649.0 698.7 L650.5 703.9 L652.1 708.6 L653.6 713.1 L655.1 717.3 L656.6 721.3 L658.2 725.2 L659.7 729.2 L661.2 733.2 L661.4 733.7 L662.7 737.4 L664.3 741.7 L665.8 746.0 L667.3 750.3 L668.9 754.4 L670.4 758.3 L671.9 762.0 L673.4 765.3 L674.3 766.9 L675.0 768.1 L676.5 770.8 L678.0 773.4 L679.6 775.9 L681.1 778.2 L682.6 780.3 L684.1 782.2 L685.7 783.9 L687.2 785.3 L688.7 784.6 L690.2 783.9 L691.8 783.3 L693.3 782.6 L694.8 781.9 L696.3 781.2 L697.8 780.5 L699.3 779.8 L700.9 779.1 L702.4 778.4 L703.9 777.7 L705.4 776.9 L706.9 776.2 L707.4 776.0 L708.4 775.5 L710.0 774.8 L711.5 774.1 L713.0 773.4 L714.5 772.8 L716.0 772.1 L717.5 771.3 L719.1 770.6 L720.6 769.9 L722.1 769.1 L723.6 768.2 L725.1 767.4 L725.9 766.9 L726.6 766.4 L728.2 765.4 L729.7 764.2 L731.2 762.9 L732.7 761.5 L734.2 760.1 L735.7 758.7 L737.3 757.3 L738.8 756.0 L740.3 754.7 L741.8 753.6 L743.3 752.6 L744.3 752.0 L744.8 751.7 L746.4 750.9 L747.9 750.2 L749.4 749.4 L750.9 748.8 L752.4 748.1 L753.9 747.5 L755.5 746.9 L757.0 746.3 L758.5 745.7 L760.0 745.2 L761.5 744.6 L763.0 744.1 L764.6 743.6 L766.1 743.1 L767.6 742.5 L769.1 742.0 L770.6 741.5 L772.0 741.0 L772.1 740.9 L773.7 740.5 L775.2 740.1 L776.7 739.8 L778.2 739.4 L779.7 738.9 L781.2 738.2 L782.5 737.5 L782.8 737.3 L784.3 734.7 L785.8 731.0 L787.0 715.0 L787.4 708.3 L788.3 694.8 L789.1 680.9 L790.0 667.4 L790.8 660.1 L792.3 650.0 L792.4 649.6 L794.0 645.0 L794.8 644.2 L795.7 644.0 L797.4 643.7 L799.0 643.6 L800.5 643.6 L802.0 643.6 L803.5 643.6 L805.0 643.6 L806.5 643.6 L808.0 643.7 L809.6 643.7 L811.1 643.7 L812.6 643.7 L814.1 643.7 L815.6 643.7 L817.1 643.8 L818.6 643.8 L820.0 643.8 L820.1 643.8 L821.6 643.8 L823.1 643.9 L824.6 643.9 L826.1 643.9 L827.6 644.0 L829.1 644.0 L830.7 644.0 L832.2 644.1 L833.7 644.1 L835.2 644.2 L836.7 644.2 L838.2 644.3 L839.7 644.3 L841.2 644.4 L842.7 644.4 L844.2 644.5 L845.7 644.5 L847.2 644.6 L848.7 644.6 L850.3 644.7 L851.8 644.7 L853.3 644.8 L854.8 644.8 L856.3 644.9 L857.8 644.9 L859.3 645.0 L860.0 645.0 L860.8 645.0 L862.3 645.1 L863.8 645.1 L865.3 645.1 L866.8 645.2 L868.3 645.2 L869.9 645.3 L871.4 645.3 L872.9 645.3 L874.4 645.4 L875.9 645.4 L877.4 645.5 L878.9 645.5 L880.4 645.5 L881.9 645.6 L883.4 645.6 L884.9 645.6 L886.4 645.7 L887.9 645.7 L889.4 645.8 L891.0 645.8 L892.5 645.8 L894.0 645.9 L895.5 645.9 L897.0 645.9 L898.5 646.0 L900.0 646.0 L1386.0 646.0"/>
<path id="a7" stroke="#A2142F" d="M203.2 356.5 L205.0 520.0 L210.7 600.0 L212.1 668.7 L213.7 705.7 L215.0 730.0 L215.2 732.9 L216.8 752.6 L218.3 765.5 L219.8 761.3 L221.4 756.9 L222.6 753.0 L222.9 752.1 L224.4 747.0 L225.9 741.5 L227.5 735.8 L229.0 729.8 L229.2 729.0 L230.5 723.3 L232.1 716.2 L233.6 708.8 L235.1 701.5 L236.0 697.5 L236.7 694.6 L238.2 688.3 L239.7 682.1 L241.2 675.5 L242.8 668.1 L242.9 667.4 L244.3 659.4 L245.8 649.6 L247.4 638.8 L248.9 627.0 L250.3 615.3 L250.4 614.3 L252.0 601.0 L253.0 588.0 L253.5 578.8 L254.3 555.0 L255.0 519.1 L255.6 480.0 L256.5 407.0 L256.5 404.1 L257.9 320.0 L258.1 309.9 L259.1 250.0 L259.6 218.5 L262.5 223.0 L264.0 224.5 L265.5 226.0 L267.0 227.6 L268.5 229.3 L270.0 231.0 L270.0 231.0 L271.5 232.9 L273.0 234.8 L274.5 236.8 L276.0 238.8 L277.6 241.0 L279.1 243.1 L280.6 245.2 L281.1 246.0 L282.1 247.4 L283.6 249.6 L285.1 251.9 L286.6 254.2 L288.1 256.5 L289.6 258.9 L291.1 261.2 L292.6 263.4 L293.0 264.0 L294.1 265.6 L295.6 267.8 L297.1 270.0 L298.6 272.2 L300.1 274.4 L301.6 276.5 L303.1 278.6 L304.6 280.6 L305.7 282.0 L306.1 282.6 L307.7 284.5 L309.2 286.4 L310.7 288.2 L312.2 290.1 L313.7 291.8 L315.2 293.5 L316.7 295.1 L318.0 296.5 L318.2 296.7 L319.7 298.2 L321.2 299.6 L322.7 301.0 L324.2 302.3 L325.7 303.6 L327.2 304.9 L328.7 306.1 L330.2 307.4 L330.4 307.5 L331.7 308.6 L333.2 309.8 L334.7 310.9 L336.3 312.1 L337.8 313.2 L339.3 314.3 L340.8 315.4 L342.3 316.4 L342.4 316.5 L343.8 317.5 L345.3 318.5 L346.8 319.5 L348.3 320.5 L349.8 321.5 L351.3 322.5 L352.8 323.4 L354.3 324.2 L355.0 324.6 L355.8 325.0 L357.3 325.8 L358.8 326.5 L360.3 327.3 L361.8 328.0 L363.3 328.6 L364.8 329.3 L366.4 329.9 L367.9 330.5 L369.4 331.2 L370.9 331.7 L371.0 331.8 L372.4 332.3 L373.9 332.9 L375.4 333.5 L376.9 334.0 L378.4 334.6 L379.9 335.1 L381.4 335.6 L382.9 336.1 L384.4 336.6 L385.9 337.1 L387.4 337.6 L387.9 337.7 L388.9 338.0 L390.4 338.5 L391.9 338.9 L393.4 339.4 L395.0 339.8 L396.5 340.2 L398.0 340.6 L399.5 341.0 L401.0 341.4 L402.5 341.8 L404.0 342.2 L404.0 342.2 L405.5 342.6 L407.0 342.9 L408.5 343.3 L410.0 343.6 L411.5 344.0 L413.0 344.3 L414.5 344.6 L416.0 345.0 L417.5 345.3 L419.0 345.6 L420.5 345.9 L420.7 345.9 L422.0 346.2 L423.5 346.4 L425.1 346.7 L426.6 347.0 L428.1 347.3 L429.6 347.6 L431.1 347.9 L432.6 348.1 L434.1 348.4 L435.6 348.6 L437.1 348.9 L438.6 349.1 L440.1 349.3 L441.6 349.5 L443.1 349.7 L444.6 349.9 L445.4 350.0 L446.1 350.1 L447.6 350.2 L449.1 350.4 L450.6 350.5 L452.1 350.6 L453.7 350.8 L455.2 350.9 L456.7 351.0 L458.2 351.1 L459.7 351.2 L461.2 351.3 L462.7 351.4 L464.2 351.6 L465.7 351.7 L467.2 351.8 L468.7 351.9 L470.0 352.0 L470.2 352.0 L471.7 352.1 L473.2 352.3 L474.7 352.4 L476.2 352.6 L477.7 352.7 L479.2 352.9 L480.7 353.0 L482.2 353.2 L483.8 353.3 L485.3 353.5 L486.8 353.6 L488.3 353.8 L489.8 353.9 L491.3 354.0 L492.8 354.2 L494.3 354.3 L495.8 354.3 L497.3 354.4 L498.8 354.5 L500.0 354.5 L500.3 354.5 L501.8 354.5 L503.3 354.6 L504.8 354.6 L506.3 354.6 L507.8 354.6 L509.3 354.7 L510.8 354.7 L512.4 354.7 L513.9 354.7 L515.4 354.7 L516.9 354.7 L518.4 354.7 L519.9 354.7 L521.4 354.8 L522.9 354.8 L524.4 354.8 L525.9 354.8 L527.4 354.8 L528.9 354.8 L530.4 354.8 L531.9 354.9 L533.4 354.9 L534.9 354.9 L536.4 354.9 L537.9 355.0 L539.4 355.0 L540.0 355.0 L540.9 355.0 L542.5 355.1 L544.0 355.1 L545.5 355.2 L547.0 355.3 L548.5 355.4 L550.0 355.5 L551.5 355.6 L553.0 355.8 L554.5 355.9 L556.0 356.0 L557.5 359.4 L558.3 362.0 L559.0 365.1 L560.5 373.7 L560.5 373.9 L562.0 385.4 L563.5 398.0 L563.5 398.4 L565.1 410.9 L565.5 415.0 L566.6 426.4 L568.1 443.4 L568.5 447.4 L569.6 456.0 L571.1 466.5 L572.6 476.1 L573.2 480.0 L574.1 485.8 L575.6 495.2 L577.1 504.3 L578.6 513.4 L580.1 522.7 L580.5 525.0 L581.7 532.7 L583.2 543.3 L584.7 554.0 L586.2 564.1 L587.5 572.0 L587.7 573.0 L589.2 580.8 L590.7 587.7 L592.2 594.2 L593.7 600.4 L595.2 606.7 L596.7 613.3 L598.2 620.6 L599.5 627.4 L599.8 628.9 L601.3 639.5 L602.8 650.8 L604.2 660.0 L604.3 660.5 L605.8 668.1 L607.3 675.1 L608.8 681.5 L610.3 687.5 L611.8 693.2 L613.3 698.8 L614.8 704.3 L615.3 706.0 L616.4 710.0 L617.9 715.6 L619.4 721.2 L620.9 726.5 L622.4 731.4 L623.9 735.8 L624.5 737.4 L625.4 739.7 L626.9 743.1 L628.4 746.2 L629.9 749.2 L631.4 752.0 L632.0 753.0 L633.0 754.7 L634.5 757.3 L636.0 759.9 L637.5 762.3 L639.0 764.6 L640.2 766.5 L640.5 767.0 L642.0 769.2 L643.5 771.5 L645.0 773.7 L646.5 775.9 L648.0 778.0 L649.6 780.1 L651.1 782.2 L652.6 784.2 L654.1 786.3 L655.0 787.5 L655.6 788.3 L657.1 790.3 L658.6 792.3 L660.1 794.3 L661.6 796.2 L663.1 798.1 L664.6 800.0 L666.2 801.9 L667.7 803.7 L669.2 805.4 L670.4 806.8 L670.7 807.1 L672.2 808.7 L673.7 810.3 L675.2 811.9 L676.7 813.4 L678.2 814.9 L679.7 816.3 L681.2 817.8 L682.8 819.2 L684.3 820.6 L685.0 821.3 L685.8 822.0 L687.3 823.4 L688.8 824.7 L690.3 826.0 L691.8 827.3 L693.3 828.6 L694.8 829.9 L696.3 831.2 L697.8 832.5 L699.3 833.8 L700.4 834.7 L700.9 835.1 L702.4 836.4 L703.9 837.7 L705.4 839.1 L706.9 840.4 L708.4 841.7 L709.9 843.0 L711.4 844.4 L712.9 845.7 L713.0 845.8 L714.4 847.1 L715.9 848.5 L717.5 849.8 L719.0 851.2 L720.5 852.6 L722.0 854.0 L723.5 855.4 L725.0 856.8 L726.5 849.0 L728.0 841.5 L729.6 834.2 L731.1 827.3 L731.4 825.9 L732.6 820.7 L734.1 814.3 L735.7 808.1 L737.2 802.1 L738.7 796.2 L740.2 790.5 L740.6 789.0 L741.7 784.7 L743.3 779.0 L744.8 773.4 L746.3 767.9 L747.8 762.5 L749.3 757.2 L750.9 751.9 L752.4 746.7 L753.5 743.0 L753.9 741.6 L755.4 736.7 L757.0 731.9 L758.5 727.2 L760.0 722.5 L761.5 717.9 L763.0 713.3 L764.6 708.6 L766.1 703.9 L767.6 699.1 L768.3 696.9 L769.1 694.4 L770.7 690.3 L772.2 686.5 L773.7 682.7 L775.2 678.2 L776.7 672.8 L778.3 665.8 L779.3 660.0 L779.8 655.6 L781.3 633.1 L781.8 627.4 L782.8 618.8 L784.3 608.0 L785.9 598.9 L787.4 590.7 L788.9 582.9 L789.2 581.4 L790.4 575.1 L792.0 567.8 L793.5 561.0 L795.0 554.8 L796.5 569.1 L798.0 581.2 L799.2 587.4 L799.5 588.5 L801.0 593.3 L802.5 597.2 L804.0 600.2 L805.5 602.6 L806.6 604.0 L807.0 604.5 L808.6 606.1 L810.1 607.6 L811.6 608.9 L813.1 610.0 L814.6 611.1 L816.1 612.0 L817.6 612.9 L819.1 613.8 L820.6 614.6 L821.4 615.0 L822.1 615.4 L823.6 616.1 L825.1 616.9 L826.6 617.5 L828.1 618.2 L829.6 618.8 L831.1 619.4 L832.6 620.0 L834.1 620.6 L835.7 621.1 L837.2 621.6 L838.7 622.1 L839.8 622.5 L840.2 622.6 L841.7 623.1 L843.2 623.6 L844.7 624.0 L846.2 624.5 L847.7 624.9 L849.2 625.3 L850.7 625.8 L852.2 626.2 L853.7 626.6 L855.2 627.0 L856.7 627.3 L858.2 627.7 L859.7 628.1 L861.2 628.4 L862.8 628.8 L864.3 629.1 L865.8 629.4 L867.3 629.8 L867.4 629.8 L868.8 630.1 L870.3 630.4 L871.8 630.7 L873.3 631.0 L874.8 631.3 L876.3 631.6 L877.8 631.9 L879.3 632.2 L880.8 632.5 L882.3 632.8 L883.8 633.1 L885.3 633.4 L886.8 633.6 L888.4 633.9 L889.9 634.1 L891.4 634.4 L892.9 634.6 L894.4 634.9 L895.9 635.1 L897.4 635.3 L898.9 635.6 L900.4 635.8 L901.9 636.0 L903.4 636.2 L904.3 636.3 L904.9 636.4 L906.4 636.6 L907.9 636.8 L909.4 636.9 L910.9 637.1 L912.4 637.3 L913.9 637.5 L915.5 637.6 L917.0 637.8 L918.5 637.9 L920.0 638.1 L921.5 638.2 L923.0 638.4 L924.5 638.5 L926.0 638.7 L927.5 638.8 L929.0 639.0 L930.5 639.1 L932.0 639.2 L933.5 639.4 L935.0 639.5 L936.5 639.6 L938.0 639.8 L939.5 639.9 L941.0 640.0 L941.1 640.0 L942.6 640.1 L944.1 640.3 L945.6 640.4 L947.1 640.5 L948.6 640.6 L950.1 640.7 L951.6 640.9 L953.1 641.0 L954.6 641.1 L956.1 641.2 L957.6 641.3 L959.1 641.4 L960.6 641.6 L962.1 641.7 L963.6 641.8 L965.1 641.9 L966.6 642.0 L968.2 642.1 L969.7 642.2 L971.2 642.3 L972.7 642.4 L974.2 642.5 L975.7 642.6 L977.2 642.7 L978.7 642.8 L980.2 642.9 L981.7 643.0 L983.2 643.1 L984.7 643.2 L986.2 643.3 L987.7 643.4 L989.2 643.5 L990.7 643.5 L992.2 643.6 L993.8 643.7 L995.3 643.8 L996.8 643.8 L998.3 643.9 L999.8 644.0 L1000.0 644.0 L1001.3 644.1 L1002.8 644.1 L1004.3 644.2 L1005.8 644.3 L1007.3 644.3 L1008.8 644.4 L1010.3 644.4 L1011.8 644.5 L1013.3 644.6 L1014.8 644.6 L1016.3 644.7 L1017.8 644.8 L1019.3 644.8 L1020.9 644.9 L1022.4 644.9 L1023.9 645.0 L1025.4 645.0 L1026.9 645.1 L1028.4 645.2 L1029.9 645.2 L1031.4 645.3 L1032.9 645.3 L1034.4 645.4 L1035.9 645.4 L1037.4 645.5 L1038.9 645.5 L1040.4 645.6 L1041.9 645.6 L1043.4 645.6 L1044.9 645.7 L1046.4 645.7 L1048.0 645.8 L1049.5 645.8 L1051.0 645.8 L1052.5 645.9 L1054.0 645.9 L1055.5 645.9 L1057.0 645.9 L1058.5 646.0 L1060.0 646.0 L1386.0 646.0"/>
<path id="a8" stroke="#0072BD" d="M204.6 356.5 L205.4 689.0 L209.0 668.0 L213.0 655.0 L217.0 645.0 L220.5 628.0 L221.5 560.0 L222.6 470.0 L226.3 447.5 L227.8 449.1 L229.3 450.7 L230.9 452.2 L232.4 453.8 L233.9 455.2 L235.4 456.7 L236.9 458.1 L238.4 459.5 L240.0 460.8 L241.5 462.1 L243.0 463.3 L244.5 464.5 L246.0 465.6 L247.6 466.7 L249.1 467.7 L250.3 468.5 L250.6 468.7 L252.1 469.6 L253.6 470.5 L255.2 471.3 L256.7 472.1 L258.2 472.9 L259.7 473.6 L261.2 474.3 L262.7 475.0 L264.3 475.7 L265.8 476.4 L267.3 477.0 L268.8 477.7 L270.3 478.3 L271.9 478.9 L273.4 479.5 L274.9 480.1 L276.4 480.8 L277.9 481.4 L278.0 481.4 L279.4 482.0 L281.0 482.6 L282.5 483.2 L284.0 483.8 L285.5 484.4 L287.0 485.0 L288.6 485.6 L290.1 486.1 L291.6 486.7 L293.1 487.3 L294.6 487.8 L296.2 488.4 L297.7 488.9 L299.2 489.4 L300.7 489.9 L302.2 490.4 L303.7 490.9 L305.3 491.4 L306.8 491.9 L308.3 492.4 L309.8 490.0 L311.3 487.5 L312.8 485.1 L314.3 482.6 L315.8 480.2 L317.3 477.7 L318.8 475.2 L320.3 472.7 L321.8 470.2 L323.3 467.7 L324.0 466.6 L324.8 465.2 L326.3 462.6 L327.8 460.0 L329.3 457.3 L330.8 454.6 L332.3 451.9 L333.8 449.2 L335.3 446.6 L336.8 444.0 L338.3 441.5 L339.8 439.1 L341.3 436.8 L342.4 435.3 L342.8 434.7 L344.3 432.6 L345.8 430.6 L347.3 428.6 L348.8 426.7 L350.3 424.8 L351.8 423.0 L353.3 421.2 L354.8 419.5 L356.3 417.9 L357.8 416.3 L359.3 414.7 L360.8 413.3 L360.9 413.2 L362.3 411.8 L363.8 410.5 L365.3 409.2 L366.8 407.9 L368.3 406.6 L369.9 405.4 L371.4 404.3 L372.9 403.1 L374.4 402.0 L375.9 400.9 L377.4 399.8 L378.9 398.7 L379.3 398.4 L380.4 397.6 L381.9 396.6 L383.4 395.5 L384.9 394.5 L386.4 393.4 L387.9 392.4 L389.4 391.4 L390.9 390.5 L392.4 389.5 L393.9 388.6 L395.4 387.8 L396.9 386.9 L397.7 386.5 L398.4 386.2 L399.9 385.4 L401.4 384.7 L402.9 384.0 L404.4 383.3 L405.9 382.7 L407.4 382.0 L408.9 381.4 L410.4 380.8 L411.9 380.2 L413.4 379.6 L414.9 379.0 L416.0 378.5 L416.4 378.3 L417.9 377.7 L419.4 377.1 L420.9 376.4 L422.4 375.8 L423.9 375.2 L425.4 374.5 L426.9 373.9 L428.4 373.3 L429.9 372.7 L431.4 372.2 L432.9 371.6 L434.4 371.1 L434.6 371.0 L435.9 370.5 L437.4 370.0 L438.9 369.5 L440.4 369.0 L441.9 368.5 L443.4 368.0 L444.9 367.5 L446.4 367.0 L447.9 366.6 L449.4 366.2 L450.9 365.8 L452.4 365.4 L453.0 365.3 L453.9 365.1 L455.4 364.8 L456.9 364.5 L458.4 364.2 L459.9 363.9 L461.4 363.6 L462.9 363.3 L464.4 363.1 L465.9 362.8 L467.4 362.6 L468.9 362.4 L470.4 362.1 L471.9 361.9 L473.4 361.7 L474.9 361.5 L476.4 361.4 L477.9 361.2 L479.4 361.1 L480.0 361.0 L480.9 360.9 L482.4 360.8 L483.9 360.6 L485.4 360.5 L486.9 360.4 L488.4 360.3 L489.9 360.2 L491.4 360.1 L493.0 359.9 L494.5 359.8 L496.0 359.7 L497.5 359.6 L499.0 359.5 L500.5 359.5 L502.0 359.4 L503.5 359.3 L505.0 359.2 L506.5 359.1 L508.0 359.0 L509.5 359.0 L511.0 358.9 L512.5 358.8 L514.0 358.8 L515.5 358.7 L517.0 358.6 L518.5 358.6 L520.0 358.5 L520.0 358.5 L521.5 358.4 L523.0 358.4 L524.5 358.3 L526.0 358.3 L527.5 358.2 L529.0 358.2 L530.5 358.1 L532.0 358.1 L533.5 358.0 L535.0 358.0 L536.5 357.9 L538.0 357.9 L539.5 357.8 L541.0 357.8 L542.5 357.7 L544.0 357.7 L545.5 357.7 L547.0 357.6 L548.5 357.6 L550.0 357.6 L551.5 357.5 L553.0 357.5 L554.5 357.5 L556.0 360.9 L557.5 365.0 L557.5 365.1 L559.1 370.7 L560.3 375.6 L560.6 376.6 L562.1 382.3 L563.6 387.9 L565.1 393.5 L566.5 398.4 L566.6 398.9 L568.2 404.3 L569.7 409.6 L571.2 414.9 L572.7 419.9 L573.1 421.2 L574.2 424.8 L575.8 429.5 L577.3 434.2 L578.8 438.7 L580.3 443.4 L580.5 444.0 L581.8 448.1 L583.3 452.8 L584.9 457.6 L586.4 462.4 L587.5 466.0 L587.9 467.3 L589.4 472.4 L590.9 477.7 L592.4 483.0 L594.0 488.2 L595.5 493.3 L597.0 498.0 L597.7 500.0 L598.5 502.3 L600.0 506.4 L601.6 510.2 L603.1 513.8 L604.5 516.9 L604.6 517.1 L606.1 520.2 L607.6 523.2 L609.1 526.0 L610.7 528.7 L612.2 531.2 L613.7 533.4 L622.9 526.0 L626.6 553.7 L635.8 590.6 L641.4 598.0 L648.7 583.2 L652.4 609.0 L653.9 629.2 L655.4 647.1 L656.8 660.0 L656.9 661.0 L658.4 671.7 L660.0 680.6 L661.5 688.5 L663.0 695.9 L664.5 703.4 L665.0 706.0 L666.0 711.3 L667.5 719.2 L669.0 727.0 L670.5 734.6 L672.0 741.9 L673.6 748.8 L674.3 752.0 L675.1 755.3 L676.6 762.0 L678.1 768.6 L679.6 775.0 L681.1 780.9 L682.6 786.0 L684.1 790.3 L685.3 792.7 L685.7 793.3 L687.2 795.8 L688.7 798.0 L690.2 799.8 L691.7 801.2 L693.0 802.0 L693.2 802.1 L694.7 802.8 L696.2 803.3 L697.7 803.7 L699.3 804.0 L700.0 804.0 L700.8 804.0 L702.3 803.8 L703.8 803.4 L705.3 802.8 L706.8 802.2 L708.3 801.4 L709.8 800.5 L711.3 799.6 L712.9 798.7 L714.4 797.8 L715.9 796.9 L716.7 796.4 L717.4 796.0 L718.9 795.1 L720.4 794.2 L721.9 793.2 L723.4 792.2 L725.0 791.2 L726.5 790.1 L728.0 789.0 L729.5 787.8 L731.0 786.6 L732.5 785.4 L734.0 784.1 L735.5 782.8 L736.9 781.6 L737.0 781.5 L738.6 780.1 L740.1 778.6 L741.6 777.1 L743.1 775.6 L744.6 773.9 L746.1 772.2 L747.6 770.5 L749.1 768.7 L750.6 766.8 L752.2 764.9 L753.5 763.2 L753.7 763.0 L755.2 760.8 L756.7 758.3 L758.2 755.7 L759.7 753.1 L761.2 750.4 L762.7 747.9 L764.3 745.6 L765.8 743.6 L766.4 742.9 L767.3 742.0 L768.8 740.3 L770.3 738.7 L771.8 737.2 L773.3 735.8 L774.8 734.6 L776.3 733.6 L777.9 732.9 L779.3 732.5 L779.4 732.5 L780.9 732.2 L782.4 732.1 L783.9 732.0 L785.4 738.3 L786.9 744.9 L788.4 751.7 L788.5 752.0 L789.9 758.9 L791.4 766.7 L793.0 774.6 L794.5 782.5 L796.0 790.1 L797.5 797.0 L797.7 798.0 L799.0 803.5 L800.5 809.9 L802.0 815.9 L803.5 821.6 L805.0 826.7 L806.5 831.0 L806.5 831.1 L808.0 834.9 L809.5 838.1 L810.5 839.5 L811.1 840.1 L812.6 841.6 L814.1 842.4 L814.5 842.5 L815.6 842.3 L817.1 841.4 L818.6 840.2 L818.8 840.0 L820.1 838.5 L821.6 836.0 L823.1 832.7 L824.3 829.6 L824.6 828.6 L826.1 822.5 L827.6 814.5 L829.2 805.8 L829.3 805.0 L830.7 797.2 L832.2 787.9 L833.7 776.7 L834.2 772.1 L835.2 761.0 L836.7 739.3 L838.3 690.0 L839.3 640.0 L839.9 600.0 L840.0 575.0 L846.0 575.3 L848.6 589.0 L851.8 589.5 L855.0 576.0 L858.2 584.0 L861.0 595.0 L863.0 585.3 L864.8 599.1 L867.5 590.3 L869.9 602.1 L872.3 596.1 L875.1 611.4 L877.0 597.8 L879.8 613.6 L882.4 595.1 L884.3 616.5 L886.3 602.2 L889.1 618.9 L891.3 602.8 L893.2 623.1 L895.7 604.7 L898.1 623.7 L900.9 610.4 L903.4 626.3 L906.4 614.7 L908.6 626.6 L911.3 614.1 L913.6 627.6 L915.8 617.5 L917.9 631.9 L918.7 630.2 L921.0 614.0 L923.3 630.2 L925.5 620.1 L927.8 634.8 L929.0 632.7 L931.3 613.8 L933.6 632.7 L935.1 624.9 L938.0 635.2 L940.2 626.9 L942.9 636.7 L945.7 628.9 L948.6 636.9 L951.3 630.8 L953.5 638.6 L955.8 629.8 L957.7 637.7 L960.4 630.1 L962.9 641.1 L964.9 639.2 L967.2 619.0 L969.5 639.2 L970.0 630.5 L972.9 642.5 L975.5 628.7 L978.2 642.0 L980.6 629.8 L983.0 644.0 L985.5 630.4 L987.6 645.4 L989.8 631.1 L991.7 643.6 L993.6 630.9 L996.2 647.2 L998.8 630.8 L1001.4 646.2 L1004.1 632.0 L1007.0 645.4 L1007.5 643.9 L1009.8 625.0 L1012.1 643.9 L1014.5 631.6 L1017.1 646.0 L1019.5 633.2 L1022.4 648.4 L1024.4 630.8 L1026.6 649.1 L1028.0 644.7 L1030.3 603.7 L1032.6 644.7 L1033.9 630.0 L1036.8 647.5 L1038.8 630.1 L1041.3 647.5 L1043.2 626.3 L1046.1 650.8 L1047.3 645.3 L1049.6 617.6 L1051.9 645.3 L1053.6 627.5 L1055.5 646.1 L1058.2 622.9 L1061.0 652.1 L1063.1 622.2 L1064.7 645.8 L1067.0 617.6 L1069.3 645.8 L1071.3 647.5 L1073.2 625.1 L1075.0 641.0 L1078.3 562.5 L1081.8 603.0 L1083.2 646.0 L1084.5 608.1 L1085.9 646.0 L1087.2 609.7 L1088.6 646.0 L1089.9 606.2 L1091.3 646.0 L1092.6 605.5 L1094.0 646.0 L1095.3 604.3 L1096.3 604.0 L1098.6 565.0 L1101.2 646.0 L1102.6 579.0 L1104.0 652.6 L1105.4 574.3 L1106.8 648.4 L1108.2 570.6 L1109.6 653.2 L1111.0 577.5 L1112.4 651.9 L1113.8 575.8 L1115.2 653.0 L1116.6 569.3 L1118.0 652.5 L1119.4 569.9 L1120.8 649.0 L1122.2 577.8 L1123.6 649.0 L1125.0 577.5 L1126.4 653.3 L1127.8 576.2 L1129.2 649.6 L1130.6 580.4 L1132.0 652.3 L1133.4 574.9 L1134.8 648.9 L1136.2 571.2 L1137.6 649.6 L1139.0 577.7 L1140.4 651.7 L1141.8 579.4 L1143.2 649.4 L1144.6 578.4 L1146.0 652.1 L1147.4 578.8 L1148.8 652.8 L1150.5 600.0 L1152.5 634.0 L1154.0 622.9 L1155.5 614.1 L1156.0 612.0 L1157.0 608.4 L1158.5 603.8 L1160.0 600.1 L1161.5 597.6 L1162.0 597.0 L1163.0 595.9 L1164.6 594.5 L1166.1 593.3 L1167.6 592.6 L1168.6 592.5 L1169.1 592.5 L1170.6 593.1 L1172.1 594.3 L1173.6 595.7 L1175.0 597.0 L1175.1 597.1 L1176.6 598.7 L1178.1 600.7 L1179.6 602.8 L1181.1 605.0 L1182.6 607.0 L1184.1 608.8 L1184.3 609.0 L1185.6 610.4 L1187.1 611.8 L1188.7 613.2 L1190.2 614.6 L1191.7 615.9 L1193.2 617.2 L1194.7 618.4 L1196.2 619.6 L1197.7 620.7 L1199.2 621.7 L1200.7 622.7 L1202.2 623.7 L1202.7 624.0 L1203.7 624.6 L1205.2 625.5 L1206.7 626.4 L1208.2 627.2 L1209.7 628.0 L1211.3 628.8 L1212.8 629.5 L1214.3 630.2 L1215.8 630.9 L1217.3 631.5 L1218.8 632.1 L1220.3 632.7 L1221.0 633.0 L1221.8 633.3 L1223.3 633.8 L1224.8 634.4 L1226.3 634.9 L1227.8 635.4 L1229.3 635.8 L1230.8 636.3 L1232.3 636.7 L1233.8 637.1 L1235.4 637.5 L1236.9 637.9 L1238.4 638.2 L1239.6 638.5 L1239.9 638.6 L1241.4 638.9 L1242.9 639.2 L1244.4 639.5 L1245.9 639.8 L1247.4 640.0 L1248.9 640.3 L1250.4 640.5 L1251.9 640.8 L1253.4 641.0 L1254.9 641.2 L1256.4 641.3 L1258.0 641.5 L1258.0 641.5 L1259.5 641.6 L1261.0 641.8 L1262.5 641.9 L1264.0 642.0 L1265.5 642.1 L1267.0 642.3 L1268.5 642.4 L1270.0 642.5 L1271.5 642.6 L1273.0 642.7 L1274.5 642.8 L1276.0 642.9 L1277.5 642.9 L1279.0 643.0 L1280.5 643.1 L1282.1 643.2 L1283.6 643.2 L1285.1 643.3 L1286.6 643.4 L1288.1 643.4 L1289.6 643.5 L1290.0 643.5 L1291.1 643.5 L1292.6 643.6 L1294.1 643.6 L1295.6 643.7 L1297.1 643.7 L1298.6 643.8 L1300.1 643.8 L1301.6 643.9 L1303.1 643.9 L1304.7 644.0 L1306.2 644.0 L1307.7 644.1 L1309.2 644.1 L1310.7 644.2 L1312.2 644.2 L1313.7 644.2 L1315.2 644.3 L1316.7 644.3 L1318.2 644.3 L1319.7 644.4 L1321.2 644.4 L1322.7 644.4 L1324.2 644.4 L1325.7 644.5 L1327.2 644.5 L1328.8 644.5 L1330.0 644.5 L1330.3 644.5 L1331.8 644.5 L1333.3 644.5 L1334.8 644.5 L1336.3 644.6 L1337.8 644.6 L1339.3 644.6 L1340.8 644.6 L1342.3 644.6 L1343.8 644.6 L1345.3 644.6 L1346.8 644.6 L1348.3 644.7 L1349.8 644.7 L1351.4 644.7 L1352.9 644.7 L1354.4 644.7 L1355.9 644.7 L1357.4 644.7 L1358.9 644.7 L1360.4 644.7 L1361.9 644.7 L1363.4 644.7 L1364.9 644.7 L1366.4 644.8 L1367.9 644.8 L1369.4 644.8 L1370.9 644.8 L1372.4 644.8 L1373.9 644.8 L1375.5 644.8 L1377.0 644.8 L1378.5 644.8 L1380.0 644.8 L1381.5 644.8 L1383.0 644.8 L1384.5 644.8 L1386.0 644.8"/>
</g>
<g font-family="'Liberation Serif', serif" font-size="66.7px" fill="#000000" stroke="#ffffff" stroke-width="0.7">
<rect x="944.5" y="79.3" width="188.5" height="8.2" fill="#0072BD" stroke="none"/>
<text transform="translate(1151.0 106.8) scale(0.956 1)">Agent1</text>
<rect x="944.5" y="155.9" width="188.5" height="8.2" fill="#D95319" stroke="none"/>
<text transform="translate(1154.0 183.0) scale(0.971 1)">Agent2</text>
<rect x="939.6" y="245.9" width="190.2" height="8.2" fill="#EDB120" stroke="none"/>
<text transform="translate(1149.5 272.9) scale(0.960 1)">Agent3</text>
<rect x="939.6" y="324.9" width="190.2" height="8.2" fill="#7E2F8E" stroke="none"/>
<text transform="translate(1151.0 352.2) scale(0.968 1)">Agent4</text>
<rect x="939.6" y="431.9" width="190.2" height="8.2" fill="#77AC30" stroke="none"/>
<text transform="translate(1149.5 458.7) scale(0.965 1)">Agent5</text>
<rect x="939.6" y="510.5" width="190.2" height="8.2" fill="#4DBEEE" stroke="none"/>
<text transform="translate(1149.5 538.0) scale(0.976 1)">Agent6</text>
<rect x="944.5" y="725.9" width="191.1" height="8.2" fill="#A2142F" stroke="none"/>
<text transform="translate(1156.0 754.0) scale(0.965 1)">Agent7</text>
<rect x="944.5" y="805.9" width="191.1" height="8.2" fill="#0072BD" stroke="none"/>
<text transform="translate(1154.5 832.7) scale(0.973 1)">Agent8</text>
</g>
<g font-family="'Liberation Serif', serif" font-size="66.5px" fill="#262626" stroke="#ffffff" stroke-width="0.7">
<text transform="translate(201.8 966.0) scale(0.977 1.03)" text-anchor="middle">0</text>
<text transform="translate(439.0 966.0) scale(0.977 1.03)" text-anchor="middle">200</text>
<text transform="translate(675.8 966.0) scale(0.977 1.03)" text-anchor="middle">400</text>
<text transform="translate(911.5 966.0) scale(0.977 1.03)" text-anchor="middle">600</text>
<text transform="translate(1149.5 966.0) scale(0.977 1.03)" text-anchor="middle">800</text>
<text transform="translate(1386.8 966.0) scale(0.977 1.03)" text-anchor="middle">1000</text>
<text transform="translate(169.8 899.4) scale(0.977 1.03)" text-anchor="end">0</text>
<text transform="translate(169.8 690.8) scale(0.977 1.03)" text-anchor="end">2</text>
<text transform="translate(169.8 483.2) scale(0.977 1.03)" text-anchor="end">4</text>
<text transform="translate(169.8 275.7) scale(0.977 1.03)" text-anchor="end">6</text>
<text transform="translate(169.8 68.2) scale(0.977 1.03)" text-anchor="end">8</text>
</g>
<g font-family="'Liberation Serif', serif" font-size="76px" fill="#262626" stroke="#ffffff" stroke-width="0.7">
<text x="793.2" y="1060.4" text-anchor="middle">step</text>
<text transform="translate(98.0 464.2) rotate(-90)" text-anchor="middle"><tspan font-style="italic">v</tspan>(m/s)</text>
</g>
</svg>
</body>
</html>
